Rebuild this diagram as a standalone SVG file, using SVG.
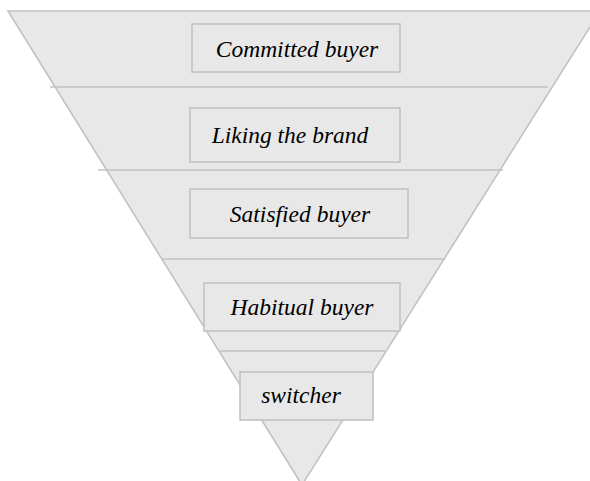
<svg xmlns="http://www.w3.org/2000/svg" width="590" height="481" viewBox="0 0 590 481">
  <style>
    .funnel { fill: #e8e8e8; stroke: #c2c2c2; stroke-width: 1.6; }
    .divider { stroke: #c2c2c2; stroke-width: 1.6; fill: none; }
    .box { fill: #e8e8e8; stroke: #c2c2c2; stroke-width: 1.6; }
    .label { font-style: italic; font-size: 23.5px; fill: #000; text-anchor: middle; }
  </style>
  <rect width="590" height="481" fill="#ffffff"/>
  <!-- inverted funnel -->
  <polygon class="funnel" points="8,11 600,11 302,485"/>
  <g id="connectors">
    <line class="divider" x1="50" y1="87" x2="548" y2="87"/>
    <line class="divider" x1="98" y1="170" x2="503" y2="170"/>
    <line class="divider" x1="162" y1="259" x2="445" y2="259"/>
    <line class="divider" x1="220" y1="351" x2="385" y2="351"/>
  </g>
  <g font-family="'Liberation Serif', 'Times New Roman', Times, serif">
    <g id="committed">
      <rect class="box" x="192" y="24" width="208" height="48"/>
      <text class="label" x="297" y="57">Committed buyer</text>
    </g>
    <g id="liking">
      <rect class="box" x="190" y="108" width="210" height="54"/>
      <text class="label" x="290" y="143">Liking the brand</text>
    </g>
    <g id="satisfied">
      <rect class="box" x="190" y="189" width="218" height="49"/>
      <text class="label" x="300" y="222">Satisfied buyer</text>
    </g>
    <g id="habitual">
      <rect class="box" x="204" y="283" width="196" height="48"/>
      <text class="label" x="302" y="315">Habitual buyer</text>
    </g>
    <g id="switcher">
      <rect class="box" x="240" y="372" width="133" height="48"/>
      <text class="label" x="301" y="403">switcher</text>
    </g>
  </g>
</svg>
